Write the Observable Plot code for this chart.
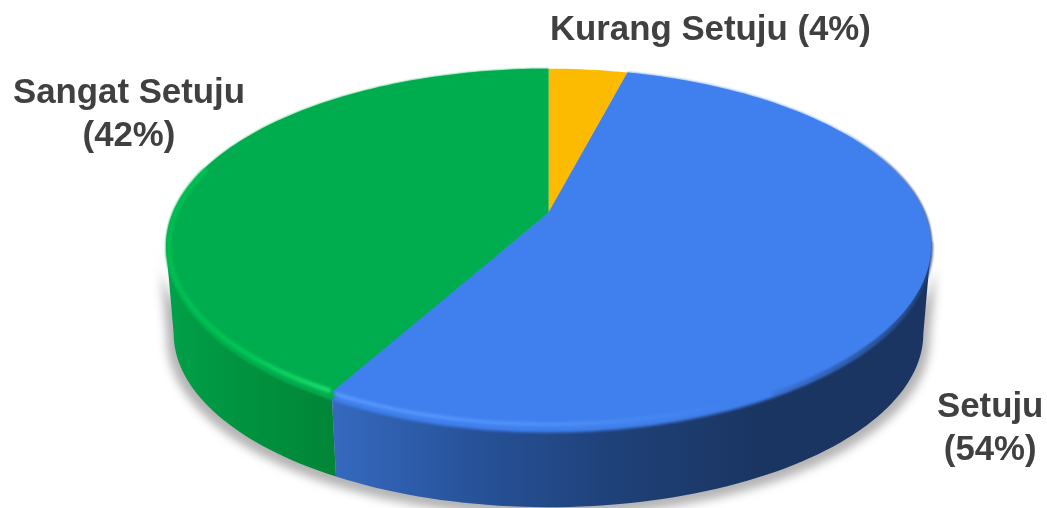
<!DOCTYPE html>
<html><head><meta charset="utf-8">
<style>html,body{margin:0;padding:0;background:#fff}svg{display:block}</style>
<script src="https://cdn.jsdelivr.net/npm/d3@7"></script>
<script src="https://cdn.jsdelivr.net/npm/@observablehq/plot@0.6"></script>
</head><body><div id="chart"></div>
<script>
const categories = ["Kurang Setuju", "Setuju", "Sangat Setuju"];
const shares = [4, 54, 42];
const faceColors = ["#fdbb00", "#4080ee", "#00ad4e"];
const labelLines = [["Kurang Setuju (4%)"], ["Setuju", "(54%)"], ["Sangat Setuju", "(42%)"]];
// label anchor points in the chart's disc coordinates
const labelX = [0.431, 1.176, -1.117];
const labelY = [1.088, -1.241, 0.595];

// Perspective projection of a flat disc, then extruded downward
const tilt = 0.189, depth = 0.515, baseScale = 0.98, bevel = 0.053;
function project(deg, scale = 1, drop = 0, bev = 0) {
  const t = deg * Math.PI / 180, X = Math.sin(t), Y = Math.cos(t), d = 1 + tilt * Y;
  return {x: scale * X / d, y: scale * Y / d - drop - bev * Math.max(0, -Y)};
}
function arc(a, b, scale, drop, bev) {
  const n = Math.max(2, Math.ceil(Math.abs(b - a) / 1.5)), out = [];
  for (let i = 0; i <= n; ++i) out.push(project(a + (b - a) * i / n, scale, drop, bev));
  return out;
}
const stops = d3.cumsum(shares).map(v => v * 3.6);
const starts = [0, ...stops.slice(0, -1)];
const center = {x: 0, y: 0};
// the side of the disc is seen between the two points where the rim turns back
const turnRight = Math.acos(-tilt) * 180 / Math.PI, turnLeft = 360 - turnRight;
const seam = stops[1];
const faces = shares.map((_, i) => [center, ...arc(starts[i], stops[i], 1, 0, 0)]);
const bevels = shares.map((_, i) => [center, ...arc(starts[i], stops[i], 1, 0, bevel)]);
const wallBlue = [...arc(turnRight, seam, 1, 0, 0), ...arc(seam, turnRight, baseScale, depth, 0)];
const wallGreen = [...arc(seam, turnLeft, 1, 0, 0), ...arc(turnLeft, seam, baseScale, depth, 0)];
const shadow = [...arc(turnRight, turnLeft, 1.018, 0.03, 0), ...arc(turnLeft, turnRight, baseScale * 1.018, depth + 0.03, 0)];

function defs() {
  const ns = "http://www.w3.org/2000/svg";
  const d = document.createElementNS(ns, "defs");
  const grad = (id, x1, x2, list) => {
    const g = document.createElementNS(ns, "linearGradient");
    g.setAttribute("id", id); g.setAttribute("gradientUnits", "userSpaceOnUse");
    g.setAttribute("x1", x1); g.setAttribute("x2", x2); g.setAttribute("y1", 0); g.setAttribute("y2", 0);
    for (const [o, c, a] of list) {
      const s = document.createElementNS(ns, "stop");
      s.setAttribute("offset", o); s.setAttribute("stop-color", c);
      if (a != null) s.setAttribute("stop-opacity", a);
      g.appendChild(s);
    }
    d.appendChild(g);
  };
  grad("wallGreen", 165, 337, [[0, "#00a049"], [0.45, "#00933f"], [1, "#008536"]]);
  grad("wallBlue", 333, 760, [[0, "#3569bf"], [0.3, "#28549c"], [0.65, "#1f4179"], [1, "#1a3562"]]);
  grad("rimGreen", 165, 333, [[0, "#00bd52"], [0.5, "#00c957"], [1, "#1fe070"]]);
  grad("rimBlue", 333, 760, [[0, "#5d9bff"], [0.45, "#5292fb"], [0.8, "#4585ef"], [1, "#4080ee", 0]]);
  grad("edgeTop", 830, 930, [[0, "#17305c", 0], [1, "#152c52", 0.9]]);
  grad("edgeFront", 740, 930, [[0, "#17305c", 0], [0.5, "#17305c", 0.5], [1, "#152c52", 0.9]]);
  return d;
}

const line = (pts, o) => Plot.line(pts, {x: "x", y: "y", stroke: "none", curve: "linear", ...o});
const labels = labelLines.map((lines, i) => ({text: lines.join("\n"), x: labelX[i], y: labelY[i], name: categories[i]}));

const plot = Plot.plot({
  width: 1047, height: 508, margin: 0,
  x: {domain: [-1, 1], range: [172.4, 923.6], axis: null},
  y: {domain: [-1, 1], range: [383, 41], axis: null},
  style: {background: "#fff"},
  marks: [
    defs,
    line(shadow, {fill: "#b4b4b4", imageFilter: "blur(5px)"}),
    line(wallGreen, {fill: "url(#wallGreen)"}),
    line(wallBlue, {fill: "url(#wallBlue)"}),
    line(bevels[2], {fill: "#00ad4e", imageFilter: "blur(1.2px)"}),
    line(bevels[1], {fill: "#4080ee", imageFilter: "blur(1.6px)"}),
    line(arc(100, 150, 1, 0, 0.03), {stroke: "url(#edgeFront)", strokeWidth: 3, imageFilter: "blur(1.6px)"}),
    line(arc(60, 100, 1, 0, 0), {stroke: "url(#edgeTop)", strokeWidth: 2, imageFilter: "blur(0.8px)"}),
    ...faces.map((f, i) => line(f, {fill: faceColors[i], imageFilter: "blur(0.5px)"})),
    line(arc(209.5, 285, 0.992, 0, 0.008), {stroke: "url(#rimGreen)", strokeWidth: 4.5, imageFilter: "blur(1.6px)"}),
    line(arc(135, 208.3, 0.995, 0, 0.012), {stroke: "url(#rimBlue)", strokeWidth: 3.5, imageFilter: "blur(1.4px)"}),
    Plot.text(labels, {x: "x", y: "y", text: "text", fill: "#404040", fontFamily: "Liberation Sans", fontWeight: "bold",
      fontSize: 34.8, lineHeight: 1.24, textAnchor: "middle", stroke: "none", imageFilter: "blur(0.3px)"})
  ]
});
document.getElementById("chart").appendChild(plot);
</script></body></html>
